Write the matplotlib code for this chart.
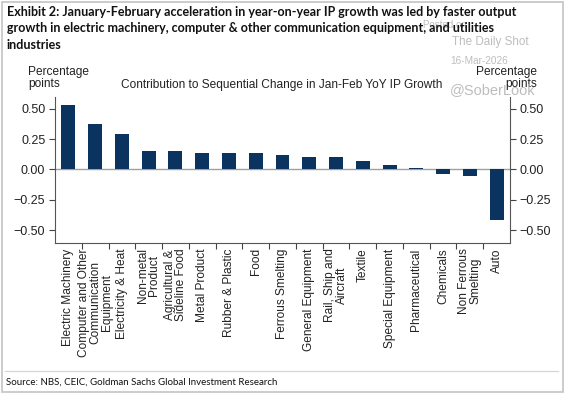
import numpy as np
import matplotlib
matplotlib.use("Agg")
import matplotlib.pyplot as plt
from matplotlib.patches import Rectangle
from matplotlib.lines import Line2D

# ----------------- Data -----------------
categories = [
    "Electric Machinery",
    "Computer and Other\nCommunication\nEquipment",
    "Electricity & Heat",
    "Non-metal\nProduct",
    "Agricultural &\nSideline Food",
    "Metal Product",
    "Rubber & Plastic",
    "Food",
    "Ferrous Smelting",
    "General Equipment",
    "Rail, Ship and\nAircraft",
    "Textile",
    "Special Equipment",
    "Pharmaceutical",
    "Chemicals",
    "Non Ferrous\nSmelting",
    "Auto",
]
contrib = [0.53, 0.375, 0.295, 0.153, 0.152, 0.137, 0.137, 0.137, 0.123,
           0.100, 0.100, 0.067, 0.034, 0.012, -0.036, -0.053, -0.415]
yticks = [-0.50, -0.25, 0.00, 0.25, 0.50]

title = ("Exhibit 2: January-February acceleration in year-on-year IP growth was led by faster output\n"
         "growth in electric machinery, computer & other communication equipment, and utilities\n"
         "industries")
subtitle = "Contribution to Sequential Change in Jan-Feb YoY IP Growth"
source = "Source: NBS, CEIC, Goldman Sachs Global Investment Research"

# ----------------- Plot -----------------
W, H = 564, 393
fig = plt.figure(figsize=(W / 100, H / 100), dpi=100)
plt.rcParams['font.family'] = ['Liberation Sans', 'DejaVu Sans']

ax = fig.add_axes([55 / W, 1 - 242.7 / H, (510 - 55) / W, (242.7 - 97) / H])
x = np.arange(len(categories))
ax.bar(x, contrib, width=0.52, color='#0b3360', zorder=3)
ax.axhline(0, color='#a0a0a0', lw=1.0, zorder=2)

ax.set_xlim(-0.5, len(categories) - 0.5)
ax.set_ylim(-0.603, 0.597)
ax.set_yticks(yticks)
ax.set_yticklabels([f"{v:.2f}".replace('-', '\u2212') for v in yticks])

ax.set_xticks(x)
ax.set_xticklabels(categories, rotation=90, ha='center', va='top',
                   multialignment='center', fontsize=8.6, color='#222222',
                   linespacing=0.95)
ax.set_xticks(x[:-1] + 0.5, minor=True)
ax.tick_params(axis='x', which='major', length=0, pad=4)
ax.tick_params(axis='x', which='minor', length=4, width=0.8, color='#444444', direction='out')
ax.tick_params(axis='y', left=True, right=True, labelleft=True, labelright=True,
               length=4, width=0.8, color='#444444', labelsize=9, labelcolor='#222222', pad=3)

ax.spines['top'].set_visible(False)
for s in ('left', 'right', 'bottom'):
    ax.spines[s].set_color('#555555')
    ax.spines[s].set_linewidth(0.8)

# titles and axis unit labels
fig.text(7 / W, 1 - 6 / H, title, ha='left', va='top', fontsize=9.0,
         fontweight='bold', family=['Lato', 'DejaVu Sans'], color='#111111',
         linespacing=1.45, zorder=5)
fig.text(282 / W, 1 - 85 / H, subtitle, ha='center', va='center', fontsize=8.6, color='#222222')
fig.text(28 / W, 1 - 78 / H, "Percentage\npoints", ha='left', va='center',
         fontsize=8.6, color='#222222', linespacing=1.1)
fig.text(537 / W, 1 - 78 / H, "Percentage\npoints", ha='right', va='center',
         fontsize=8.6, color='#222222', linespacing=1.1, multialignment='right')

# watermark
wm = '#bdbdbd'
fig.text(423 / W, 1 - 25 / H, "Posted on", ha='left', va='center', fontsize=7, color=wm, zorder=1)
fig.text(452 / W, 1 - 42 / H, "The Daily Shot", ha='left', va='center', fontsize=8.4, color=wm)
fig.text(450 / W, 1 - 61 / H, "16-Mar-2026", ha='left', va='center', fontsize=7.2, color=wm)
fig.text(450 / W, 1 - 90 / H, "@SoberLook", ha='left', va='center', fontsize=10.5, color=wm)

# source + frame
fig.add_artist(Line2D([5 / W, 558 / W], [1 - 370.7 / H] * 2, color='#d6d6d6', lw=0.9))
fig.text(6 / W, 1 - 381.7 / H, source, ha='left', va='center', fontsize=7.05,
         family=['Lato', 'DejaVu Sans'], color='#111111')
fig.add_artist(Rectangle((1.5 / W, 1.5 / H), (W - 3) / W, (H - 3) / H, fill=False,
                         edgecolor='#c4c4c4', lw=1.2, transform=fig.transFigure))

fig.savefig("out.png", dpi=100)
